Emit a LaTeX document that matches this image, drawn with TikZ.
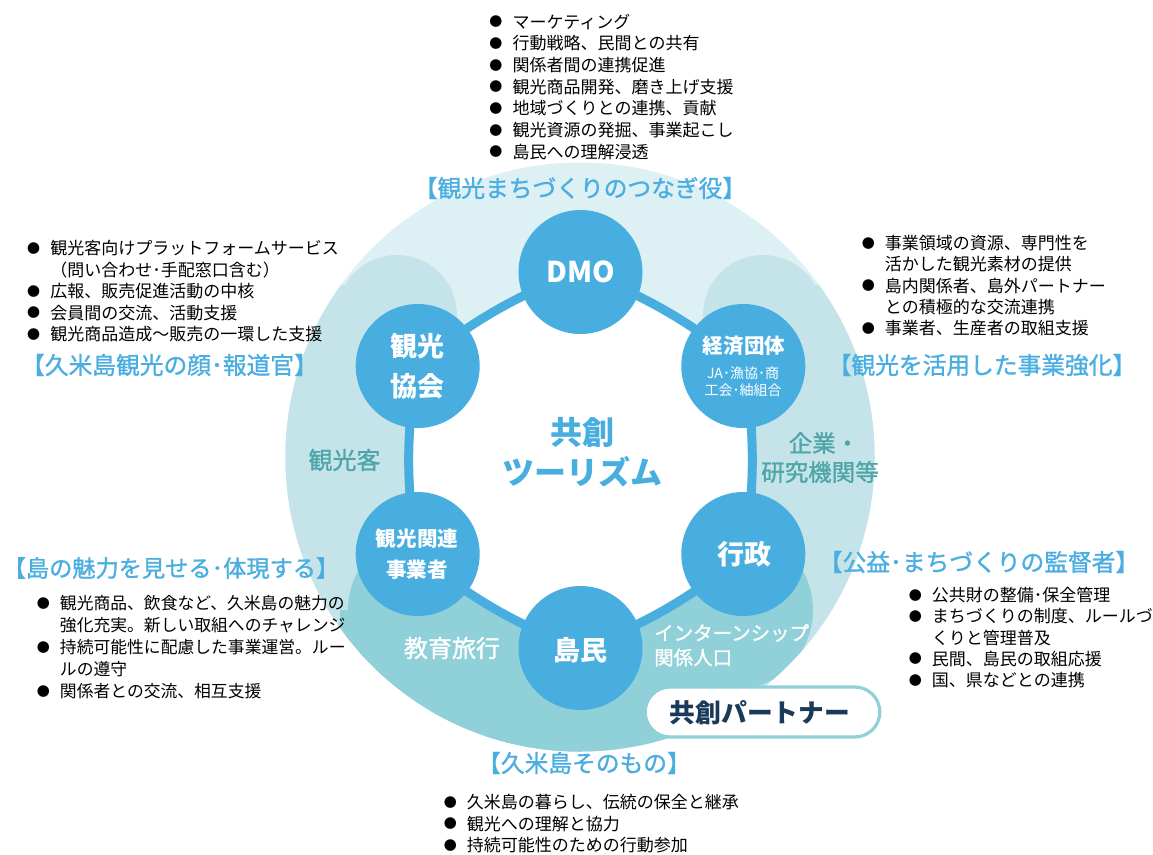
\documentclass[tikz,border=0pt]{standalone}
\usepackage{fontspec}
\setmainfont{Noto Sans CJK JP}
\newfontfamily\jpmed{Noto Sans CJK JP}[FakeBold=1.2]
\definecolor{cA}{HTML}{DDF0F3}
\definecolor{cB}{HTML}{C4E4EA}
\definecolor{cC}{HTML}{90D0D8}
\definecolor{hub}{HTML}{48AEE0}
\definecolor{ttlc}{HTML}{4AAEE1}
\definecolor{tealc}{HTML}{4EA5AA}
\definecolor{navy}{HTML}{1A3A5A}
\newcommand\bul{\makebox[17.4pt][l]{\raisebox{1.1pt}{\fontsize{9.75pt}{9.75pt}\selectfont ●}}}
\tikzset{
  hubnode/.style={circle, fill=hub, minimum size=93pt, inner sep=0pt},
  wtxt/.style={text=white, inner sep=0pt},
  ttl/.style={text=ttlc, inner sep=0pt, font=\jpmed\fontsize{17.8pt}{17.8pt}\selectfont},
  blist/.style={anchor=base west, inner sep=0pt, text=black},
  ringline/.style={draw=hub, line width=6.75pt, fill=white},
  pill/.style={draw=cC, line width=2.4pt, fill=white, rounded corners=18.75pt,
     minimum width=176pt, minimum height=37.5pt, inner sep=0pt},
}
\begin{document}
\begin{tikzpicture}[x=0.75pt,y=-0.75pt]
\useasboundingbox (0,0) rectangle (1153,854);
\fill[white] (0,0) rectangle (1153,854);

% outer disc and bands
\fill[cA] (580,457) circle[radius=294.5];
\begin{scope}
  \clip (580,457) circle[radius=294.5];
  % middle band (horseshoe)
  \fill[cB] (397,315) circle[radius=60] (763,315) circle[radius=60];
  \fill[cB] (200,315) rectangle (457,800);
  \fill[cB] (703,315) rectangle (960,800);
  \fill[cB] (397,315) -- (345,285) -- (330,285) -- (250,400) -- (397,400) -- cycle;
  \fill[cB] (763,315) -- (815,285) -- (830,285) -- (910,400) -- (763,400) -- cycle;
  \fill[cB] (200,400) rectangle (960,800);
  % bottom band
  \fill[cC] (428,610) circle[radius=80] (733,610) circle[radius=80];
  \fill[cC] (428,570) rectangle (733,800);
  \fill[cC] (340,610) rectangle (580,800);
\end{scope}

% ring
\coordinate (pD) at (580.5,272);
\coordinate (pK) at (417.7,366);
\coordinate (pE) at (743.3,366);
\coordinate (pR) at (417.7,554);
\coordinate (pG) at (743.3,554);
\coordinate (pT) at (580.5,648);
\path[ringline] (pD) .. controls +(-60.3,20.9) and +(48.3,-41.7) .. (pK)
  .. controls +(-12,62.7) and +(-12,-62.7) .. (pR)
  .. controls +(48.3,41.7) and +(-60.3,-20.9) .. (pT)
  .. controls +(60.3,-20.9) and +(-48.3,41.7) .. (pG)
  .. controls +(12,-62.7) and +(12,62.7) .. (pE)
  .. controls +(-48.3,-41.7) and +(60.3,20.9) .. (pD) -- cycle;

% hubs
\node[hubnode] (dmo) at (pD) {};
\node[hubnode] (kk) at (pK) {};
\node[hubnode] (ke) at (pE) {};
\node[hubnode] (kr) at (pR) {};
\node[hubnode] (gs) at (pG) {};
\node[hubnode] (tm) at (pT) {};

% hub labels
\node[wtxt, font=\bfseries\fontsize{21.5pt}{21.5pt}\selectfont] (tdmo) at (581,272) {DMO};
\node[wtxt, align=center, font=\bfseries\fontsize{20.25pt}{30pt}\selectfont] (tkk) at (417,366) {観光\\協会};
\node[wtxt, font=\bfseries\fontsize{15.4pt}{15.4pt}\selectfont] (tke1) at (744,346) {経済団体};
\node[wtxt, font=\fontsize{10.5pt}{10.5pt}\selectfont] (tke2) at (743,373) {JA･漁協･商};
\node[wtxt, font=\fontsize{10.5pt}{10.5pt}\selectfont] (tke3) at (743,390) {工会･紬組合};
\node[wtxt, font=\bfseries\fontsize{15.4pt}{15.4pt}\selectfont] (tkr1) at (417,539) {観光関連};
\node[wtxt, font=\bfseries\fontsize{15.4pt}{15.4pt}\selectfont] (tkr2) at (417,569.5) {事業者};
\node[wtxt, font=\bfseries\fontsize{20.25pt}{20.25pt}\selectfont] (tgs) at (744,554) {行政};
\node[wtxt, font=\bfseries\fontsize{20.25pt}{20.25pt}\selectfont] (ttm) at (580,650) {島民};

% centre
\node[text=hub, inner sep=0pt, font=\bfseries\fontsize{24pt}{24pt}\selectfont] (c1) at (582,432) {共創};
\node[text=hub, inner sep=0pt, font=\bfseries\fontsize{24pt}{24pt}\selectfont] (c2) at (582,472) {ツーリズム};

% band labels
\node[text=tealc, inner sep=0pt, font=\jpmed\fontsize{18pt}{18pt}\selectfont] (kyaku) at (344.5,460) {観光客};
\node[text=tealc, inner sep=0pt, font=\jpmed\fontsize{17.6pt}{17.6pt}\selectfont] (kig1) at (824,443) {企業・};
\node[text=tealc, inner sep=0pt, font=\jpmed\fontsize{17.6pt}{17.6pt}\selectfont] (kig2) at (820,472) {研究機関等};
\node[wtxt, font=\jpmed\fontsize{18pt}{18pt}\selectfont] (kyoiku) at (452,648) {教育旅行};
\node[wtxt, anchor=west, font=\jpmed\fontsize{14.6pt}{14.6pt}\selectfont] (intern) at (654,633) {インターンシップ};
\node[wtxt, anchor=west, font=\jpmed\fontsize{14.6pt}{14.6pt}\selectfont] (kankei) at (654,657.5) {関係人口};

% partner pill
\node[pill] (partner) at (762.5,712) {};
\node[text=navy, inner sep=0pt, font=\bfseries\fontsize{19.3pt}{19.3pt}\selectfont] (tpartner) at (760,713) {共創パートナー};

% titles
\node[ttl] (t1) at (580,188) {【観光まちづくりのつなぎ役】};
\node[ttl] (t2) at (169.5,365) {【久米島観光の顔･報道官】};
\node[ttl] (t3) at (982,365) {【観光を活用した事業強化】};
\node[ttl, font=\jpmed\fontsize{17.4pt}{17.4pt}\selectfont] (t4) at (171,568) {【島の魅力を見せる･体現する】};
\node[ttl] (t5) at (979,562) {【公益･まちづくりの監督者】};
\node[ttl] (t6) at (584,763) {【久米島そのもの】};

% bullet lists
\node[blist, font=\fontsize{12.75pt}{16.25pt}\selectfont] (l1) at (489.2,28.2) {\begin{tabular}[t]{@{}l@{}l@{}}
\bul&マーケティング\\
\bul&行動戦略、民間との共有\\
\bul&関係者間の連携促進\\
\bul&観光商品開発、磨き上げ支援\\
\bul&地域づくりとの連携、貢献\\
\bul&観光資源の発掘、事業起こし\\
\bul&島民への理解浸透
\end{tabular}};
\node[blist, font=\fontsize{12.75pt}{16.125pt}\selectfont] (l2) at (26.8,254.5) {\begin{tabular}[t]{@{}l@{}l@{}}
\bul&観光客向けプラットフォームサービス\\
&（問い合わせ･手配窓口含む）\\
\bul&広報、販売促進活動の中核\\
\bul&会員間の交流、活動支援\\
\bul&観光商品造成～販売の一環した支援
\end{tabular}};
\node[blist, font=\fontsize{12.75pt}{15.94pt}\selectfont] (l3) at (861.5,249.5) {\begin{tabular}[t]{@{}l@{}l@{}}
\bul&事業領域の資源、専門性を\\
&活かした観光素材の提供\\
\bul&島内関係者、島外パートナー\\
&との積極的な交流連携\\
\bul&事業者、生産者の取組支援
\end{tabular}};
\node[blist, font=\fontsize{12.6pt}{16.5pt}\selectfont] (l4) at (36.5,609.5) {\begin{tabular}[t]{@{}l@{}l@{}}
\bul&観光商品、飲食など、久米島の魅力の\\
&強化充実。新しい取組へのチャレンジ\\
\bul&持続可能性に配慮した事業運営。ルー\\
&ルの遵守\\
\bul&関係者との交流、相互支援
\end{tabular}};
\node[blist, font=\fontsize{12.75pt}{15.94pt}\selectfont] (l5) at (908.5,601.5) {\begin{tabular}[t]{@{}l@{}l@{}}
\bul&公共財の整備･保全管理\\
\bul&まちづくりの制度、ルールづ\\
&くりと管理普及\\
\bul&民間、島民の取組応援\\
\bul&国、県などとの連携
\end{tabular}};
\node[blist, font=\fontsize{12.75pt}{16.125pt}\selectfont] (l6) at (443.5,808.5) {\begin{tabular}[t]{@{}l@{}l@{}}
\bul&久米島の暮らし、伝統の保全と継承\\
\bul&観光への理解と協力\\
\bul&持続可能性のための行動参加
\end{tabular}};
\end{tikzpicture}
\end{document}
